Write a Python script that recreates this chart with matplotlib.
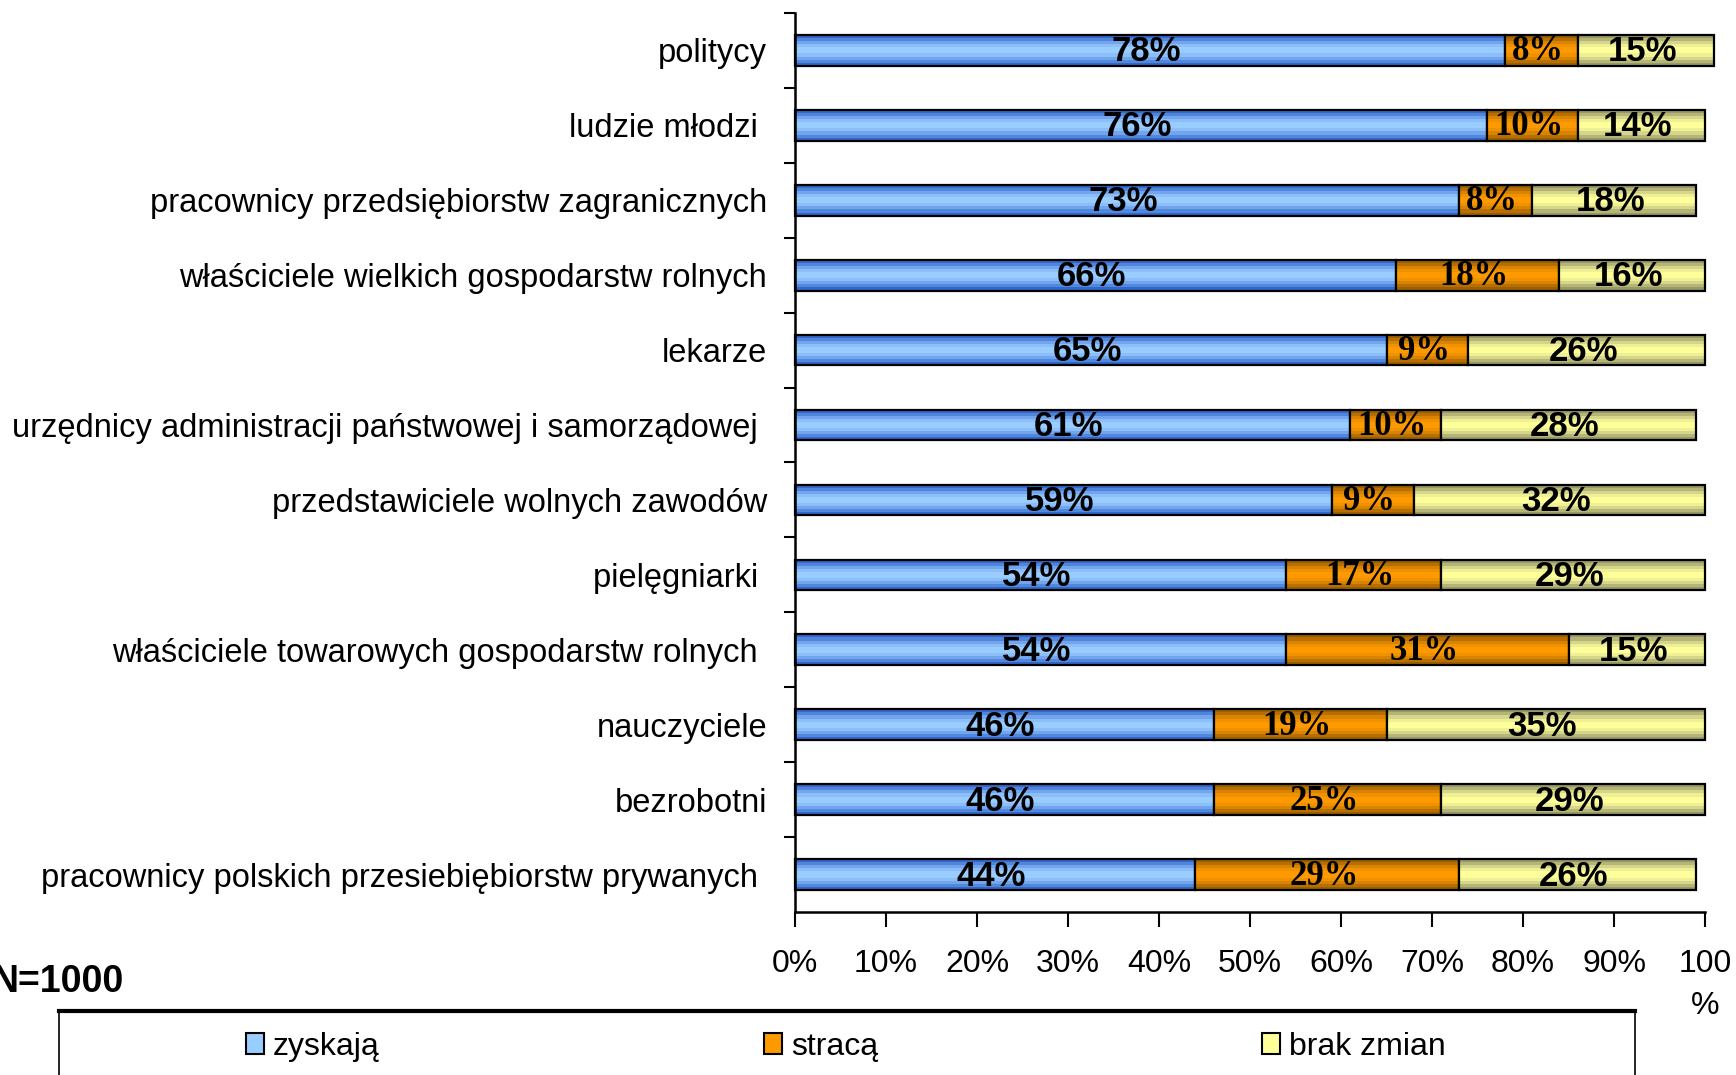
import matplotlib
matplotlib.use("Agg")
import matplotlib.pyplot as plt
from matplotlib.patches import Patch, Rectangle
from matplotlib.lines import Line2D

plt.rcParams['font.family'] = ['Liberation Sans', 'DejaVu Sans']

# data, top row first
categories = [
    "politycy",
    "ludzie młodzi ",
    "pracownicy przedsiębiorstw zagranicznych",
    "właściciele wielkich gospodarstw rolnych",
    "lekarze",
    "urzędnicy administracji państwowej i samorządowej ",
    "przedstawiciele wolnych zawodów",
    "pielęgniarki ",
    "właściciele towarowych gospodarstw rolnych ",
    "nauczyciele",
    "bezrobotni",
    "pracownicy polskich przesiebiębiorstw prywanych ",
]
zyskaja = [78, 76, 73, 66, 65, 61, 59, 54, 54, 46, 46, 44]
straca = [8, 10, 8, 18, 9, 10, 9, 17, 31, 19, 25, 29]
brak_zmian = [15, 14, 18, 16, 26, 28, 32, 29, 15, 35, 29, 26]
series_names = ["zyskają", "stracą", "brak zmian"]
xticks = [0, 10, 20, 30, 40, 50, 60, 70, 80, 90, 100]
xtick_labels = ["0%", "10%", "20%", "30%", "40%", "50%", "60%", "70%", "80%", "90%", "100\n%"]

# banded gradients, top band first (like the old excel fill)
bands = {
    "zyskają": ['#3568c8', '#4f86dc', '#72a5ee', '#8cbff9', '#99ccff', '#99ccff',
                '#8cbff9', '#72a5ee', '#5088dc', '#3366cc'],
    "stracą": ['#9c5f00', '#b86f00', '#d88400', '#f09200', '#ff9900', '#ff9900',
               '#f09200', '#d88400', '#b86f00', '#9c5f00'],
    "brak zmian": ['#999966', '#b5b578', '#d6d68a', '#efef95', '#ffff99', '#ffff99',
                   '#efef95', '#d6d68a', '#b5b578', '#999966'],
}
label_font = {
    "zyskają": dict(family=['Liberation Sans'], weight='bold', fontsize=25),
    "stracą": dict(family=['Liberation Serif'], weight='bold', fontsize=25),
    "brak zmian": dict(family=['Liberation Sans'], weight='bold', fontsize=25),
}

fig = plt.figure(figsize=(17.36, 10.75), dpi=100)
ax = fig.add_axes([795 / 1736, 1 - 912 / 1075, 910 / 1736, 899 / 1075])

ypos = list(range(len(categories)))
h = 0.41
nb = 10
lefts = [0] * len(categories)
for name, vals in zip(series_names, [zyskaja, straca, brak_zmian]):
    cols = bands[name]
    for i, c in enumerate(cols):
        # axis is inverted later, so smaller y = top of bar
        yy = [y - h / 2 + (i + 0.5) * h / nb for y in ypos]
        ax.barh(yy, vals, height=h / nb * 1.02, left=lefts, color=c,
                linewidth=0, clip_on=False)
    ax.barh(ypos, vals, height=h, left=lefts, fill=False, edgecolor='black',
            linewidth=1.6, clip_on=False)
    for y, l, v in zip(ypos, lefts, vals):
        ax.text(l + v / 2 - 0.4, y + 0.02, f"{v}%", ha='center', va='center',
                **label_font[name])
    lefts = [a + b for a, b in zip(lefts, vals)]

ax.set_xlim(0, 100)
ax.set_ylim(len(categories) - 0.5, -0.5)
ax.set_xticks(xticks)
ax.set_xticklabels(xtick_labels, fontsize=23, linespacing=1.5, va='top')
ax.set_yticks(ypos)
ax.set_yticklabels(categories, fontsize=23.5)
ax.set_yticks([y + 0.5 for y in ypos[:-1]] + [-0.5], minor=True)
ax.tick_params(axis='y', which='major', length=0, pad=20)
ax.tick_params(axis='y', which='minor', length=8, width=1.5, direction='out')
ax.tick_params(axis='x', length=11, width=1.5, direction='out', pad=16)
for s in ['top', 'right']:
    ax.spines[s].set_visible(False)
for s in ['left', 'bottom']:
    ax.spines[s].set_linewidth(1.8)

fig.text(124 / 1736, 1 - 982 / 1075, "N=1000", ha='right', va='center',
         fontsize=27, weight='bold')

# legend frame, cut by the bottom edge
fig.add_artist(Rectangle((59 / 1736, -0.05), (1635 - 59) / 1736, 0.05 + 1 - 1011 / 1075,
                         transform=fig.transFigure, fill=False, edgecolor='black',
                         linewidth=1.2))
fig.add_artist(Line2D([59 / 1736, 1635 / 1736], [1 - 1011 / 1075] * 2,
                      transform=fig.transFigure, color='black', linewidth=3))

handles = [Patch(facecolor=bands[n][4], edgecolor='black', linewidth=1.5) for n in series_names]
fig.legend(handles, series_names, ncol=3, mode='expand', frameon=False,
           loc='center left', fontsize=23,
           bbox_to_anchor=(246 / 1736, 1 - 1047 / 1075, (1446 - 246) / 1736, 0),
           borderpad=0, borderaxespad=0, handlelength=0.56, handleheight=0.62,
           handletextpad=0.28)

fig.savefig("out.png", dpi=100)
